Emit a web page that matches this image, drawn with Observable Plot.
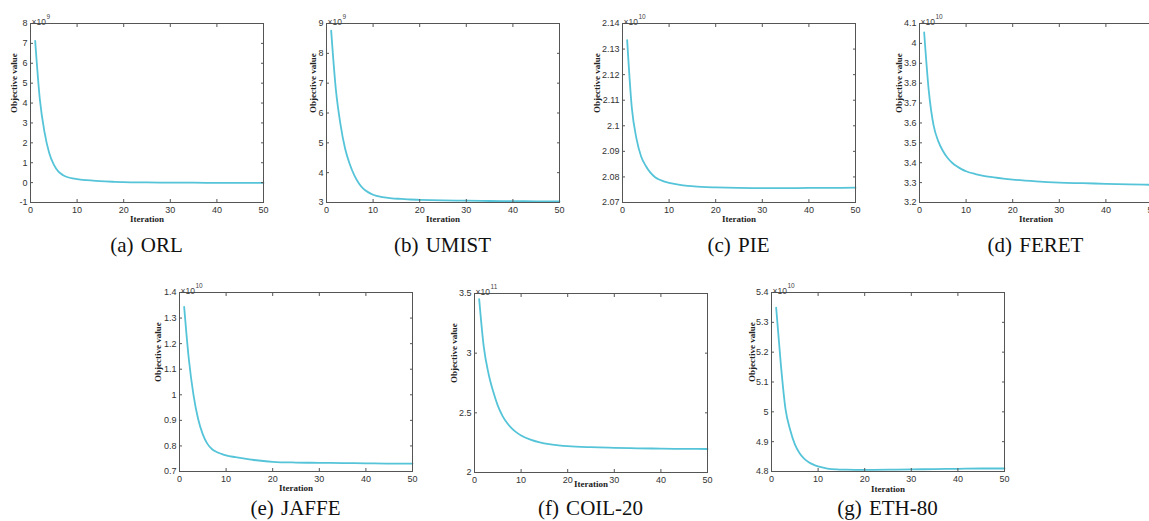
<!DOCTYPE html>
<html>
<head>
<meta charset="utf-8">
<script src="https://cdn.jsdelivr.net/npm/d3@7"></script>
<script src="https://cdn.jsdelivr.net/npm/@observablehq/plot@0.6"></script>
<style>
  body { margin: 0; background: white; }
  #root { position: relative; width: 1149px; height: 521px; overflow: hidden; background: white; }
  #root svg { position: absolute; }
  .cap { position: absolute; font-family: "Liberation Serif", "Times New Roman", Times, serif; font-size: 21px; color: #111;
         transform: translate(-50%, -50%); white-space: nowrap; word-spacing: 2px; }
</style>
</head>
<body>
<div id="root"></div>
<script>
// Iterations sampled from the curves
const iterations = [1,2,3,4,5,6,7,8,9,10,12,14,16,18,20,25,30,35,40,45,50];
const xTicks = [0,10,20,30,40,50];

// Objective values (in units of the axis exponent)
const orl   = [7.13,4.2,2.55,1.5,0.9,0.55,0.37,0.27,0.21,0.17,0.12,0.085,0.06,0.04,0.025,0.01,0.0,-0.005,-0.01,-0.01,-0.01];
const umist = [8.76,6.8,5.62,4.8,4.28,3.9,3.63,3.45,3.34,3.26,3.18,3.14,3.12,3.10,3.09,3.07,3.06,3.05,3.045,3.04,3.035];
const pie   = [2.1335,2.107,2.095,2.088,2.0843,2.0817,2.0799,2.0789,2.0782,2.0777,2.0770,2.0765,2.0762,2.0760,2.0759,2.0757,2.0756,2.0756,2.0757,2.0757,2.0758];
const feret = [4.055,3.76,3.59,3.51,3.46,3.425,3.40,3.382,3.368,3.357,3.343,3.333,3.326,3.32,3.315,3.306,3.30,3.297,3.294,3.291,3.289];
const jaffe = [1.344,1.14,1.0,0.905,0.845,0.808,0.787,0.776,0.769,0.763,0.756,0.75,0.745,0.741,0.738,0.735,0.734,0.733,0.732,0.731,0.731];
const coil  = [3.453,3.05,2.83,2.68,2.56,2.475,2.415,2.37,2.336,2.31,2.275,2.252,2.237,2.228,2.221,2.212,2.207,2.203,2.2,2.198,2.197];
const eth   = [5.349,5.16,5.01,4.94,4.892,4.862,4.843,4.831,4.823,4.817,4.81,4.807,4.806,4.8055,4.8055,4.806,4.807,4.808,4.809,4.81,4.81];

// Y tick labels per chart
const orlTicks   = [-1,0,1,2,3,4,5,6,7,8];
const umistTicks = [3,4,5,6,7,8,9];
const pieTicks   = [2.07,2.08,2.09,2.1,2.11,2.12,2.13,2.14];
const feretTicks = [3.2,3.3,3.4,3.5,3.6,3.7,3.8,3.9,4,4.1];
const jaffeTicks = [0.7,0.8,0.9,1,1.1,1.2,1.3,1.4];
const coilTicks  = [2,2.5,3,3.5];
const ethTicks   = [4.8,4.9,5,5.1,5.2,5.3,5.4];

const names     = ["(a) ORL","(b) UMIST","(c) PIE","(d) FERET","(e) JAFFE","(f) COIL-20","(g) ETH-80"];
const exponents = ["9","9","10","10","10","11","10"];

const charts = [
  {values: orl,   ticks: orlTicks,   left: 30,  top: 23,  yl: 16, xl: 19},
  {values: umist, ticks: umistTicks, left: 326, top: 23,  yl: 13, xl: 19},
  {values: pie,   ticks: pieTicks,   left: 622, top: 23,  yl: 25, xl: 19},
  {values: feret, ticks: feretTicks, left: 919, top: 23,  yl: 20, xl: 19},
  {values: jaffe, ticks: jaffeTicks, left: 179, top: 292, yl: 21, xl: 19},
  {values: coil,  ticks: coilTicks,  left: 474, top: 293, yl: 20, xl: 14},
  {values: eth,   ticks: ethTicks,   left: 771, top: 292, yl: 19, xl: 20}
];

const W = 233, H = 179;
const m = {l: 45, r: 15, t: 22, b: 35};
const lineColor = "#55c4d8";
const frameColor = "#555";
const fmt = d => String(+d.toFixed(2));

const root = document.getElementById("root");

charts.forEach((c, i) => {
  const data = iterations.map((x, k) => ({x, y: c.values[k]}));
  const svg = Plot.plot({
    width: W + m.l + m.r,
    height: H + m.t + m.b,
    marginLeft: m.l, marginRight: m.r, marginTop: m.t, marginBottom: m.b,
    style: {fontFamily: "Liberation Sans, Arial, sans-serif", fontSize: "9px", color: "#333", background: "transparent", overflow: "visible"},
    x: {domain: [0, 50]},
    y: {domain: [c.ticks[0], c.ticks[c.ticks.length - 1]]},
    marks: [
      Plot.line(data, {x: "x", y: "y", stroke: lineColor, strokeWidth: 1.8, curve: "monotone-x"}),
      Plot.frame({stroke: frameColor, strokeWidth: 1}),
      Plot.axisX({anchor: "bottom", ticks: xTicks, tickSize: -3, tickPadding: 7, label: null, stroke: frameColor}),
      Plot.axisX({anchor: "top", ticks: xTicks, tickSize: -3, tickFormat: () => "", label: null, stroke: frameColor}),
      Plot.axisY({anchor: "left", ticks: c.ticks, tickSize: -3, tickPadding: 6, tickFormat: fmt, label: null, stroke: frameColor}),
      Plot.axisY({anchor: "right", ticks: c.ticks, tickSize: -3, tickFormat: () => "", label: null, stroke: frameColor}),
      Plot.text(["×10"], {frameAnchor: "top-left", dy: -5, dx: 1, textAnchor: "start", fontSize: 8.5, fill: "#444"}),
      Plot.text([exponents[i]], {frameAnchor: "top-left", dy: -9, dx: 16, textAnchor: "start", fontSize: 6.5, fill: "#444"}),
      Plot.text(["Objective value"], {frameAnchor: "left", rotate: -90, dx: -c.yl, fontFamily: "Liberation Serif, serif", fontWeight: "bold", fontSize: 9, fill: "#222"}),
      Plot.text(["Iteration"], {frameAnchor: "bottom", dy: c.xl, fontFamily: "Liberation Serif, serif", fontWeight: "bold", fontSize: 9, fill: "#222"})
    ]
  });
  svg.style.left = (c.left - m.l) + "px";
  svg.style.top = (c.top - m.t) + "px";
  root.appendChild(svg);

  const cap = document.createElement("div");
  cap.className = "cap";
  cap.textContent = names[i];
  cap.style.left = (c.left + W / 2) + "px";
  cap.style.top = (i < 4 ? 245 : 508) + "px";
  root.appendChild(cap);
});
</script>
</body>
</html>
